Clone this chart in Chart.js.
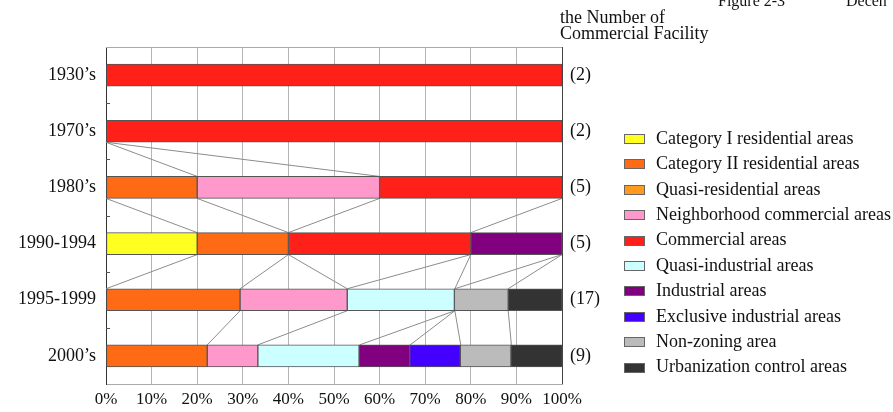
<!DOCTYPE html>
<html>
<head>
<meta charset="utf-8">
<script src="https://cdn.jsdelivr.net/npm/chart.js@4/dist/chart.umd.min.js"></script>
<style>
  body { margin: 0; background: #fff; }
  #wrap { width: 893px; height: 412px; }
</style>
</head>
<body>
<div id="wrap"><canvas id="chart" width="893" height="412"></canvas></div>
<script>
// periods (rows) and number of facilities in each
var periods = ["1930’s", "1970’s", "1980’s", "1990-1994", "1995-1999", "2000’s"];
var counts = [2, 2, 5, 5, 17, 9];
var xTicks = [0, 10, 20, 30, 40, 50, 60, 70, 80, 90, 100];

// zoning categories, share (%) of facilities in each period
var zoneNames = [
  'Category I residential areas',
  'Category II residential areas',
  'Quasi-residential areas',
  'Neighborhood commercial areas',
  'Commercial areas',
  'Quasi-industrial areas',
  'Industrial areas',
  'Exclusive industrial areas',
  'Non-zoning area',
  'Urbanization control areas'
];
var zoneColors = ['#FFFF22', '#FF6A14', '#FF9A1E', '#FF99CC', '#FF2019',
                  '#CCFFFF', '#800080', '#4400FF', '#BBBBBB', '#333333'];

var catI         = [0,   0,   0,  20, 0,    0];
var catII        = [0,   0,   20, 20, 29.4, 22.2];
var quasiRes     = [0,   0,   0,  0,  0,    0];
var neighborhood = [0,   0,   40, 0,  23.5, 11.1];
var commercial   = [100, 100, 40, 40, 0,    0];
var quasiInd     = [0,   0,   0,  0,  23.5, 22.2];
var industrial   = [0,   0,   0,  20, 0,    11.1];
var exclusiveInd = [0,   0,   0,  0,  0,    11.1];
var nonZoning    = [0,   0,   0,  0,  11.8, 11.1];
var urbanization = [0,   0,   0,  0,  11.8, 11.3];

var zoneValues = [catI, catII, quasiRes, neighborhood, commercial,
                  quasiInd, industrial, exclusiveInd, nonZoning, urbanization];

// connector lines between consecutive rows: [% on upper bar, % on lower bar]
var links = [
  [],
  [[0, 20], [0, 60]],
  [[0, 20], [20, 40], [60, 40], [100, 80]],
  [[20, 0], [40, 29.4], [40, 52.9], [80, 52.9], [80, 76.5], [100, 76.5], [100, 88.2]],
  [[29.4, 22.2], [52.9, 33.3], [76.5, 55.6], [76.5, 66.7], [76.5, 77.8], [88.2, 88.9]]
];

var FONT = "'Liberation Serif', 'Times New Roman', serif";
var BAR = 22;

var datasets = [];
for (var i = 0; i < zoneNames.length; i++) {
  datasets.push({
    label: zoneNames[i],
    // empty shares are left out so no zero-width sliver is drawn
    data: zoneValues[i].map(function(v) { return v || null; }),
    backgroundColor: zoneColors[i],
    borderColor: '#555',
    borderWidth: 1,
    borderSkipped: false,
    barThickness: BAR
  });
}

var extras = {
  id: 'extras',
  beforeDatasetsDraw: function(chart) {
    var ctx = chart.ctx, x = chart.scales.x, y = chart.scales.y, a = chart.chartArea;
    ctx.save();
    // connectors
    ctx.strokeStyle = '#8c8c8c';
    ctx.lineWidth = 1;
    for (var g = 0; g < links.length; g++) {
      var y1 = y.getPixelForValue(g) + BAR / 2;
      var y2 = y.getPixelForValue(g + 1) - BAR / 2;
      links[g].forEach(function(p) {
        ctx.beginPath();
        ctx.moveTo(x.getPixelForValue(p[0]), y1);
        ctx.lineTo(x.getPixelForValue(p[1]), y2);
        ctx.stroke();
      });
    }
    // frame
    ctx.strokeStyle = '#aaa';
    ctx.beginPath();
    ctx.moveTo(a.left, a.top + 0.5);
    ctx.lineTo(a.right, a.top + 0.5);
    ctx.stroke();
    ctx.strokeStyle = '#444';
    ctx.beginPath();
    ctx.moveTo(a.right + 0.5, a.top);
    ctx.lineTo(a.right + 0.5, a.bottom);
    ctx.stroke();
    // little ticks between rows
    ctx.strokeStyle = '#555';
    for (var k = 0; k < periods.length - 1; k++) {
      var yb = Math.round((y.getPixelForValue(k) + y.getPixelForValue(k + 1)) / 2) + 0.5;
      ctx.beginPath();
      ctx.moveTo(a.left, yb);
      ctx.lineTo(a.left + 4, yb);
      ctx.stroke();
    }
    ctx.restore();
  },
  afterDraw: function(chart) {
    var ctx = chart.ctx, y = chart.scales.y, a = chart.chartArea;
    ctx.save();
    ctx.fillStyle = '#111';
    ctx.font = '18px ' + FONT;
    ctx.textBaseline = 'middle';
    ctx.textAlign = 'left';
    // counts
    for (var i = 0; i < counts.length; i++) {
      ctx.fillText('(' + counts[i] + ')', a.right + 8, y.getPixelForValue(i));
    }
    // header
    ctx.textBaseline = 'alphabetic';
    ctx.fillText('the Number of', 560, 23);
    ctx.fillText('Commercial Facility', 560, 39);
    ctx.font = '16px ' + FONT;
    ctx.fillText('Figure 2-3', 718, 6);
    ctx.fillText('Decen', 846, 6);
    // legend
    ctx.font = '18px ' + FONT;
    ctx.textBaseline = 'middle';
    for (var j = 0; j < zoneNames.length; j++) {
      var ly = 139 + j * 25.4;
      ctx.fillStyle = zoneColors[j];
      ctx.fillRect(624, Math.round(ly - 5), 21, 10);
      ctx.strokeStyle = '#666';
      ctx.lineWidth = 1;
      ctx.strokeRect(624.5, Math.round(ly - 5) + 0.5, 20, 9);
      ctx.fillStyle = '#111';
      ctx.fillText(zoneNames[j], 656, ly);
    }
    ctx.restore();
  }
};

new Chart(document.getElementById('chart'), {
  type: 'bar',
  data: { labels: periods, datasets: datasets },
  plugins: [extras],
  options: {
    indexAxis: 'y',
    responsive: false,
    animation: false,
    layout: { padding: { top: 47, right: 331, bottom: 0, left: 0 } },
    plugins: { legend: { display: false }, tooltip: { enabled: false } },
    scales: {
      x: {
        type: 'linear',
        stacked: true,
        min: 0,
        max: 100,
        afterBuildTicks: function(s) { s.ticks = xTicks.map(function(v) { return { value: v }; }); },
        afterFit: function(s) { s.height = 28; },
        grid: { color: '#b4b4b4', drawTicks: false },
        border: { display: true, color: '#aaa' },
        ticks: {
          padding: 5,
          color: '#111',
          maxRotation: 0,
          minRotation: 0,
          autoSkip: false,
          font: { family: FONT, size: 17 },
          callback: function(v) { return v + '%'; }
        }
      },
      y: {
        stacked: true,
        afterFit: function(s) { s.width = 106; },
        grid: { display: false, drawTicks: false },
        border: { display: true, color: '#333' },
        ticks: {
          padding: 10,
          color: '#111',
          font: { family: FONT, size: 18 }
        }
      }
    }
  }
});
</script>
</body>
</html>
